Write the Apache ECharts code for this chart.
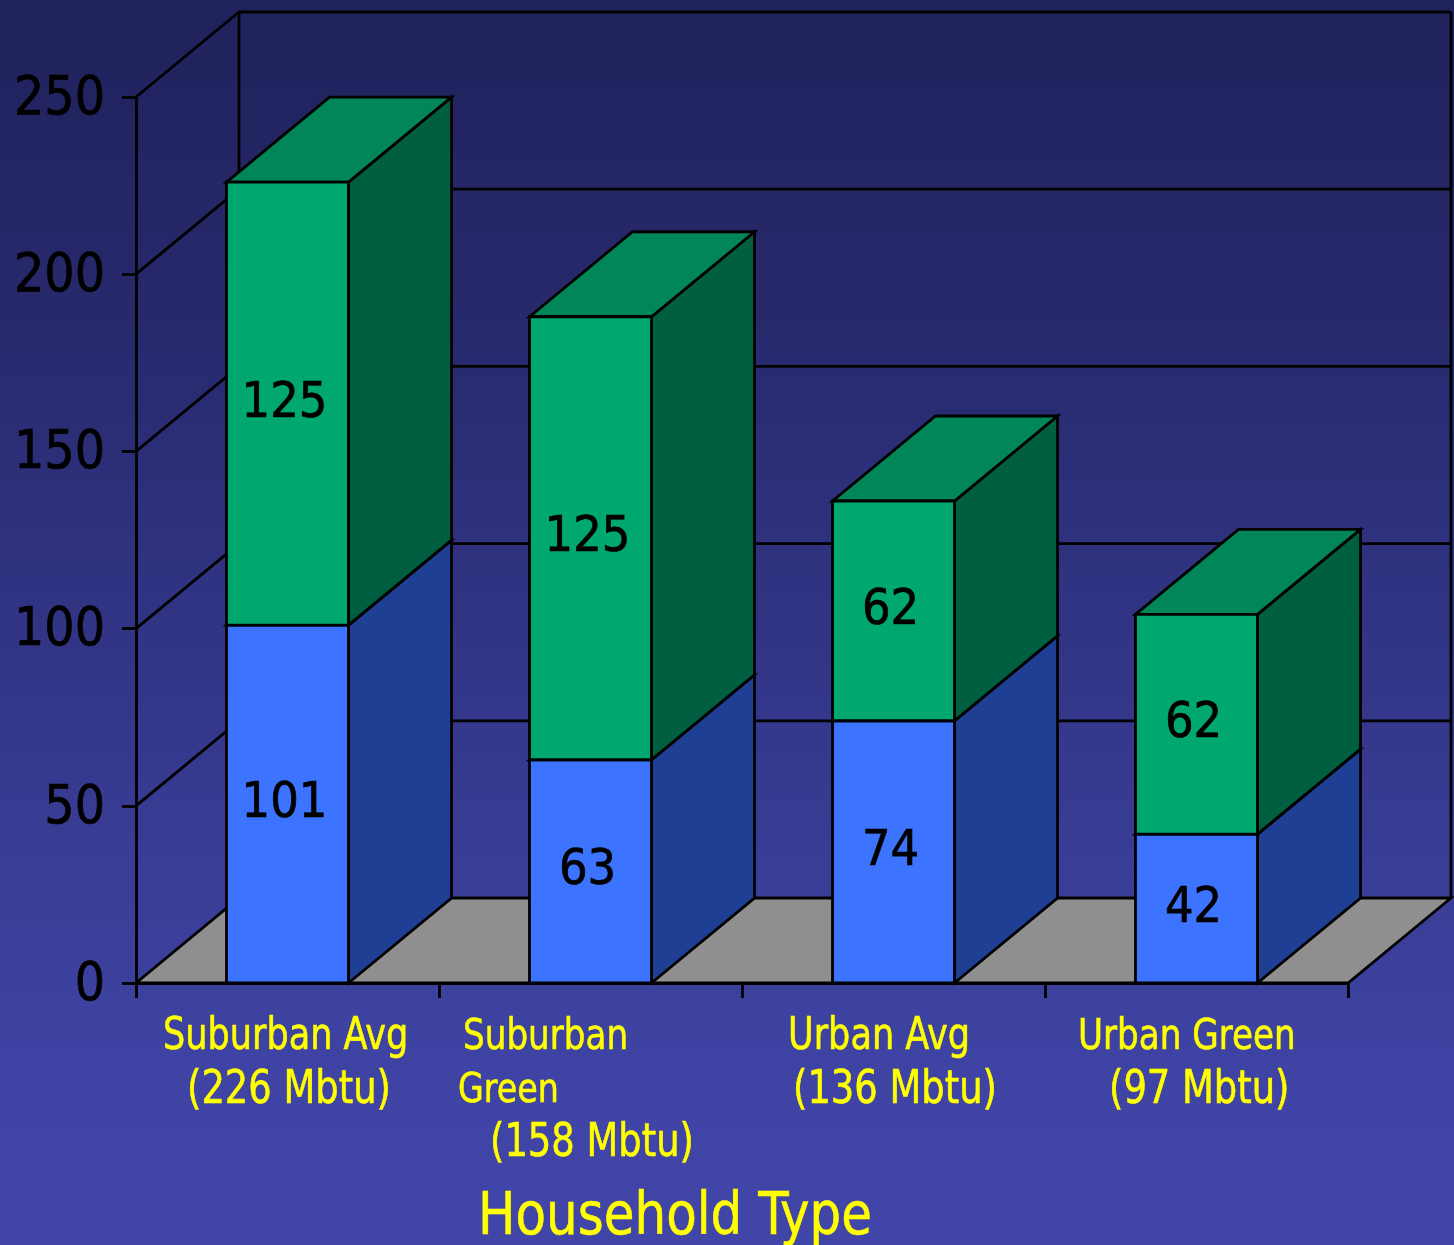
<!DOCTYPE html>
<html>
<head>
<meta charset="utf-8">
<style>html,body{margin:0;padding:0;background:#20225c}#c{width:1454px;height:1245px}</style>
<script src="https://cdn.jsdelivr.net/npm/echarts@6/dist/echarts.min.js"></script>
</head>
<body>
<div id="c"></div>
<script>
const categories = ['Suburban Avg (226 Mbtu)', 'Suburban Green (158 Mbtu)', 'Urban Avg (136 Mbtu)', 'Urban Green (97 Mbtu)'];
const lowerValues = [101, 63, 74, 42];
const upperValues = [125, 125, 62, 62];
const valueTicks = [0, 50, 100, 150, 200, 250];
const xAxisTitle = 'Household Type';
const categoryLabelLines = [
  [['Suburban Avg', 163, 1038, 39], ['(226 Mbtu)', 187, 1091, 41]],
  [['Suburban', 463, 1038, 38], ['Green', 458, 1091, 37], ['(158 Mbtu)', 490, 1144, 41]],
  [['Urban Avg', 788, 1038, 39], ['(136 Mbtu)', 793, 1091, 41]],
  [['Urban Green', 1078, 1038, 38], ['(97 Mbtu)', 1109, 1091, 41]]
];

const DX = 103, DY = -85, BAR_W = 122, LINE = 2.8;
const FONT = '"DejaVu Sans Condensed","DejaVu Sans",sans-serif';
const LINE_STYLE = { stroke: '#000', lineWidth: LINE, fill: null };
const colors = {
  lower: { front: '#3d74ff', side: '#1f3f94', top: '#1f3f94' },
  upper: { front: '#00a870', side: '#005f40', top: '#008659' },
  floor: '#8f8f8f'
};

function line(x1, y1, x2, y2) {
  return { type: 'line', shape: { x1, y1, x2, y2 }, style: LINE_STYLE };
}
function poly(points, fill) {
  return { type: 'polygon', shape: { points }, style: { fill, stroke: '#000', lineWidth: LINE, lineJoin: 'miter' } };
}

function renderWall(params, api) {
  const v = api.value(0);
  const left = api.coord([0, v]);
  const xStart = params.coordSys.x;
  const xEnd = params.coordSys.x + params.coordSys.width;
  const y = left[1];
  const children = [];
  if (v === 0) {
    children.push({
      type: 'polygon',
      shape: { points: [[xStart, y], [xStart + DX, y + DY], [xEnd + DX, y + DY], [xEnd, y]] },
      style: { fill: colors.floor, stroke: '#000', lineWidth: LINE }
    });
    const topY = api.coord([0, valueTicks[valueTicks.length - 1]])[1];
    children.push(line(xStart + DX, y + DY, xStart + DX, topY + DY));
    children.push(line(xEnd + DX, y + DY, xEnd + DX, topY + DY));
  } else {
    children.push(line(xStart, y, xStart + DX, y + DY));
    children.push(line(xStart + DX, y + DY, xEnd + DX, y + DY));
  }
  return { type: 'group', children };
}

function renderBlock(palette) {
  return function (params, api) {
    const cat = api.value(0), base = api.value(1), top = api.value(2), label = api.value(3);
    const b = api.coord([cat, base]);
    const t = api.coord([cat, top]);
    const x0 = b[0] - BAR_W / 2, x1 = b[0] + BAR_W / 2;
    const children = [
      poly([[x1, b[1]], [x1 + DX, b[1] + DY], [x1 + DX, t[1] + DY], [x1, t[1]]], palette.side),
      poly([[x0, t[1]], [x0 + DX, t[1] + DY], [x1 + DX, t[1] + DY], [x1, t[1]]], palette.top),
      poly([[x0, b[1]], [x1, b[1]], [x1, t[1]], [x0, t[1]]], palette.front),
      {
        type: 'text',
        style: {
          text: String(label),
          x: b[0] - 3,
          y: (b[1] + t[1]) / 2,
          align: 'center',
          verticalAlign: 'middle',
          fill: '#000',
          stroke: '#000',
          lineWidth: 0.7,
          font: '50px ' + FONT
        }
      }
    ];
    return { type: 'group', children };
  };
}

const lowerData = lowerValues.map((v, i) => [i, 0, v, v]);
const upperData = upperValues.map((v, i) => [i, lowerValues[i], lowerValues[i] + v, v]);

const labelGraphics = [];
categoryLabelLines.forEach(lines => lines.forEach(([text, x, y, size]) => {
  labelGraphics.push({
    type: 'text', x, y, scaleY: 1.12,
    style: { text, fill: '#ffff00', stroke: '#ffff00', lineWidth: 0.5, font: size + 'px ' + FONT, textAlign: 'left', textVerticalAlign: 'middle' }
  });
}));

const chart = echarts.init(document.getElementById('c'), null, { renderer: 'canvas', width: 1454, height: 1245 });
chart.setOption({
  animation: false,
  backgroundColor: new echarts.graphic.LinearGradient(0, 0, 0, 1, [
    { offset: 0, color: '#20225c' },
    { offset: 0.25, color: '#27296c' },
    { offset: 0.72, color: '#3a3e98' },
    { offset: 0.9, color: '#4044a6' },
    { offset: 1, color: '#4145a8' }
  ]),
  grid: { left: 136, top: 97, width: 1212, height: 886, containLabel: false },
  xAxis: {
    type: 'category',
    data: categories,
    boundaryGap: true,
    axisLine: { show: true, lineStyle: { color: '#000', width: 3 } },
    axisTick: { show: true, length: 15, alignWithLabel: false, lineStyle: { color: '#000', width: 2.8 } },
    axisLabel: { show: false },
    splitLine: { show: false },
    z: 10
  },
  yAxis: {
    type: 'value',
    min: 0,
    max: 250,
    interval: 50,
    axisLine: { show: true, lineStyle: { color: '#000', width: 2.8 } },
    axisTick: { show: true, length: 14, lineStyle: { color: '#000', width: 2.8 } },
    axisLabel: {
      color: '#000', fontSize: 53, fontFamily: FONT, margin: 31,
      verticalAlign: 'top', lineHeight: 6,
      textBorderColor: '#000', textBorderWidth: 0.7
    },
    splitLine: { show: false },
    z: 1
  },
  series: [
    {
      type: 'custom', name: 'walls', coordinateSystem: 'cartesian2d', z: 1,
      data: valueTicks.map(v => [v]), encode: { y: 0 }, renderItem: renderWall, silent: true
    },
    {
      type: 'custom', name: 'lower', coordinateSystem: 'cartesian2d', z: 2,
      data: lowerData, encode: { x: 0, y: [1, 2] }, renderItem: renderBlock(colors.lower)
    },
    {
      type: 'custom', name: 'upper', coordinateSystem: 'cartesian2d', z: 3,
      data: upperData, encode: { x: 0, y: [1, 2] }, renderItem: renderBlock(colors.upper)
    }
  ],
  graphic: labelGraphics.concat([{
    type: 'text', x: 478, y: 1219, scaleY: 1.06,
    style: { text: xAxisTitle, fill: '#ffff00', stroke: '#ffff00', lineWidth: 0.5, font: '55.5px ' + FONT, textAlign: 'left', textVerticalAlign: 'middle' }
  }])
});
</script>
</body>
</html>
